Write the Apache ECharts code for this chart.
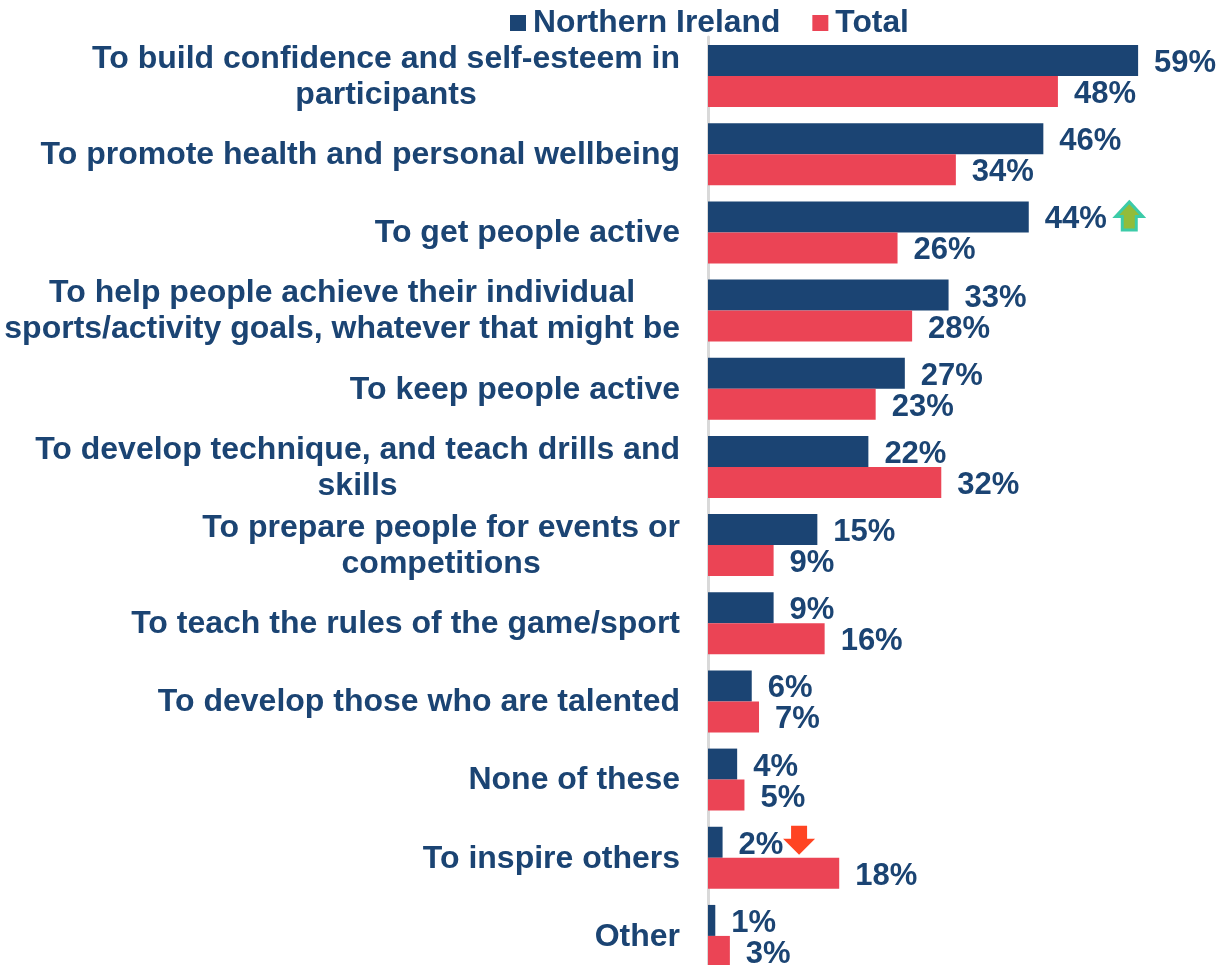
<!DOCTYPE html>
<html>
<head>
<meta charset="utf-8">
<title>Roles of coaching</title>
<style>
html,body{margin:0;padding:0;background:#fff;overflow:hidden}
#frame{width:1219px;height:965px;overflow:hidden}
#chart{width:1219px;height:1000px}
</style>
<script src="https://cdn.jsdelivr.net/npm/echarts@6/dist/echarts.min.js"></script>
</head>
<body>
<div id="frame"><div id="chart"></div></div>
<script>
const categories = [
  ['To build confidence and self-esteem in', 'participants'],
  ['To promote health and personal wellbeing'],
  ['To get people active'],
  ['To help people achieve their individual', 'sports/activity goals, whatever that might be'],
  ['To keep people active'],
  ['To develop technique, and teach drills and', 'skills'],
  ['To prepare people for events or', 'competitions'],
  ['To teach the rules of the game/sport'],
  ['To develop those who are talented'],
  ['None of these'],
  ['To inspire others'],
  ['Other']
];
const northernIreland = [59, 46, 44, 33, 27, 22, 15, 9, 6, 4, 2, 1];
const total = [48, 34, 26, 28, 23, 32, 9, 16, 7, 5, 18, 3];

const NAVY = '#1B4473';
const RED = '#EB4455';
const FONT = '"Liberation Sans", Arial, sans-serif';

// Block arrows flagging significant differences
const ARROW_UP = 'path://M50 0 L100 52 L76 52 L76 100 L24 100 L24 52 L0 52 Z';
const ARROW_DOWN = 'path://M25 0 L75 0 L75 45 L100 45 L50 100 L0 45 L25 45 Z';

const chart = echarts.init(document.getElementById('chart'));
const labels = categories.map(lines => lines.join('\n'));

const valueLabel = {
  show: true,
  position: 'right',
  distance: 16,
  offset: [0, 3],
  formatter: '{c}%',
  color: NAVY,
  fontFamily: FONT,
  fontWeight: 'bold',
  fontSize: 31
};

chart.setOption({
  animation: false,
  backgroundColor: '#fff',
  legend: {
    left: 505,
    top: 2,
    itemWidth: 16,
    itemHeight: 16,
    itemGap: 32,
    icon: 'rect',
    textStyle: {
      color: NAVY,
      fontFamily: FONT,
      fontWeight: 'bold',
      fontSize: 31.8,
      padding: [0, 0, 0, 2]
    }
  },
  grid: { left: 708, top: 37, width: 510.3, height: 938, containLabel: false },
  xAxis: { type: 'value', min: 0, max: 70, show: false },
  yAxis: {
    type: 'category',
    inverse: true,
    data: labels,
    axisTick: { show: false },
    axisLine: { show: true, lineStyle: { color: '#D9D9D9', width: 3 } },
    splitLine: { show: false },
    axisLabel: {
      interval: 0,
      margin: 28,
      padding: [2, 0, 0, 0],
      formatter: value => value.split('\n').map(line => '{t|' + line + '}').join('\n'),
      rich: {
        t: {
          align: 'center',
          color: NAVY,
          fontFamily: FONT,
          fontWeight: 'bold',
          fontSize: 32,
          lineHeight: 36
        }
      }
    }
  },
  series: [
    {
      name: 'Northern Ireland',
      type: 'bar',
      data: northernIreland,
      barGap: 0,
      barCategoryGap: '20.7%',
      itemStyle: { color: NAVY },
      label: valueLabel,
      markPoint: {
        silent: true,
        label: { show: false },
        data: [
          {
            coord: [northernIreland[2], labels[2]],
            symbol: ARROW_UP,
            symbolSize: [27, 28],
            symbolOffset: [100.5, -1],
            itemStyle: { color: '#92BC3A', borderColor: '#3CCBA8', borderWidth: 3 }
          },
          {
            coord: [northernIreland[10], labels[10]],
            symbol: ARROW_DOWN,
            symbolSize: [32, 29],
            symbolOffset: [76.5, -2],
            itemStyle: { color: '#FF4422' }
          }
        ]
      }
    },
    {
      name: 'Total',
      type: 'bar',
      data: total,
      itemStyle: { color: RED },
      label: valueLabel
    }
  ]
});
</script>
</body>
</html>
